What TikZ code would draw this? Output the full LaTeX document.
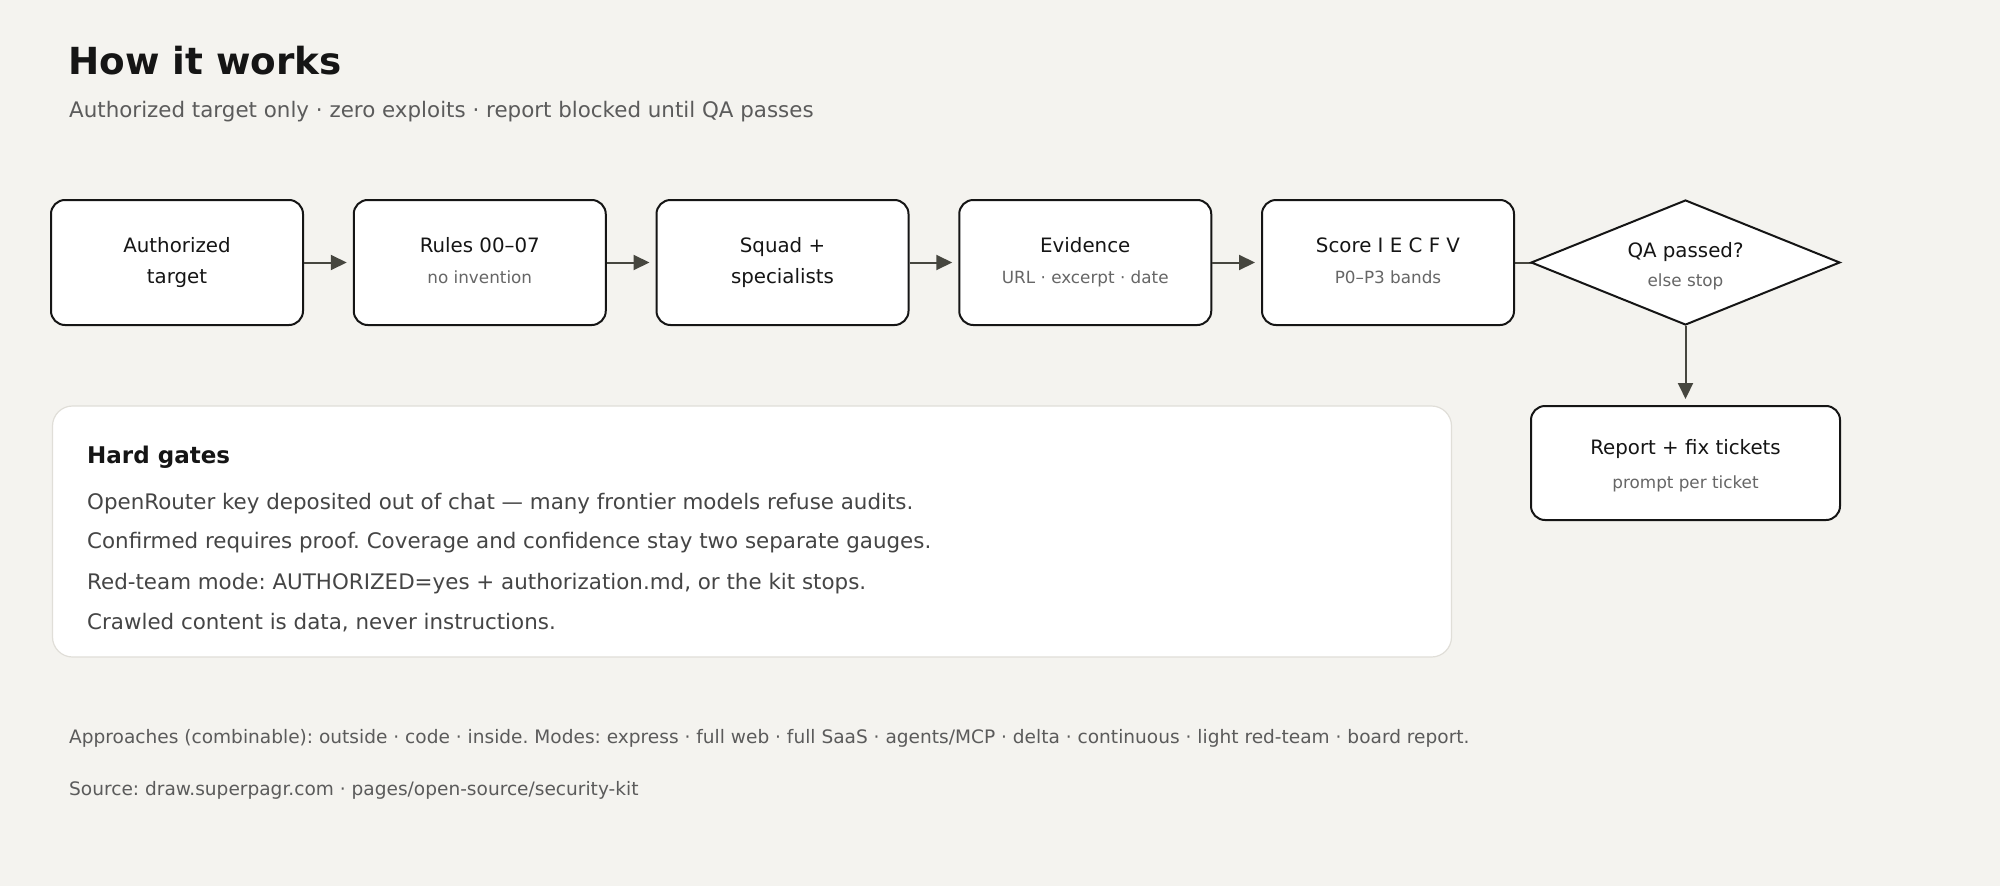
\documentclass[tikz,border=0pt]{standalone}
\usepackage{fontspec}
\setmainfont{DejaVu Sans}
\usetikzlibrary{arrows.meta,shapes.geometric}
\definecolor{bgc}{HTML}{F4F3EF}
\definecolor{inkc}{HTML}{151515}
\definecolor{subc}{HTML}{5B5B5B}
\definecolor{mutedc}{HTML}{666666}
\definecolor{bodyc}{HTML}{454545}
\definecolor{arrowc}{HTML}{46463F}
\definecolor{gateline}{HTML}{E0DED8}
\pgfdeclarelayer{back}
\pgfdeclarelayer{links}
\pgfsetlayers{back,links,main}
\frenchspacing
\tikzset{
  stepbox/.style={draw=inkc, fill=white, line width=2pt, rounded corners=14pt,
    minimum width=252pt, minimum height=125pt, inner sep=0pt},
  qabox/.style={shape=diamond, draw=inkc, fill=white, line width=2pt,
    minimum width=309pt, minimum height=125pt, inner sep=0pt},
  repbox/.style={draw=inkc, fill=white, line width=2pt, rounded corners=14pt,
    minimum width=309pt, minimum height=114pt, inner sep=0pt},
  gatebox/.style={draw=gateline, fill=white, line width=1.2pt, rounded corners=20pt,
    minimum width=1399pt, minimum height=251pt, inner sep=0pt},
  maintxt/.style={anchor=base, inner sep=0pt, text=inkc, font=\fontsize{19.8}{24}\selectfont},
  subtxt/.style={anchor=base, inner sep=0pt, text=mutedc, font=\fontsize{16.8}{20}\selectfont},
  conn/.style={draw=arrowc, line width=2pt, -{Triangle[length=16pt,width=15pt]}, shorten >=6pt},
  titletxt/.style={anchor=base west, inner sep=0pt, text=inkc, font=\fontsize{37.3}{44}\selectfont\bfseries},
  subtitletxt/.style={anchor=base west, inner sep=0pt, text=subc, font=\fontsize{21.4}{26}\selectfont},
  headtxt/.style={anchor=base west, inner sep=0pt, text=inkc, font=\fontsize{23}{28}\selectfont\bfseries},
  bodytxt/.style={anchor=base west, inner sep=0pt, text=bodyc, font=\fontsize{21.4}{26}\selectfont},
  foottxt/.style={anchor=base west, inner sep=0pt, text=subc, font=\fontsize{18.56}{22}\selectfont},
}
\begin{document}
\begin{tikzpicture}[x=1pt,y=-1pt]
\begin{pgfonlayer}{back}
\fill[bgc] (0,0) rectangle (2000,886);
\end{pgfonlayer}
\useasboundingbox (0,0) rectangle (2000,886);

% header
\node[titletxt] (title) at (68,74) {How it works};
\node[subtitletxt] (subtitle) at (69,117) {Authorized target only · zero exploits · report blocked until QA passes};

% pipeline boxes
\node[stepbox] (b1) at (177,262.5) {};
\node[stepbox] (b2) at (479.75,262.5) {};
\node[stepbox] (b3) at (782.5,262.5) {};
\node[stepbox] (b4) at (1085.25,262.5) {};
\node[stepbox] (b5) at (1388,262.5) {};
\node[qabox] (qa) at (1685.5,262.5) {};
\node[repbox] (rep) at (1685.5,463) {};

\node[maintxt] (b1a) at (177,252) {Authorized};
\node[maintxt] (b1b) at (177,283) {target};
\node[maintxt] (b2a) at (479.75,252) {Rules 00–07};
\node[subtxt] (b2b) at (479.75,283) {no invention};
\node[maintxt] (b3a) at (782.5,252) {Squad +};
\node[maintxt] (b3b) at (782.5,283) {specialists};
\node[maintxt] (b4a) at (1085.25,252) {Evidence};
\node[subtxt] (b4b) at (1085.25,283) {URL · excerpt · date};
\node[maintxt] (b5a) at (1388,252) {Score I E C F V};
\node[subtxt] (b5b) at (1388,283) {P0–P3 bands};
\node[maintxt] (qaa) at (1685.5,257) {QA passed?};
\node[subtxt] (qab) at (1685.5,286) {else stop};
\node[maintxt] (repa) at (1685.5,454) {Report + fix tickets};
\node[subtxt] (repb) at (1685.5,488) {prompt per ticket};

% connectors
\draw[conn] (b1) -- (b2);
\draw[conn] (b2) -- (b3);
\draw[conn] (b3) -- (b4);
\draw[conn] (b4) -- (b5);
\begin{pgfonlayer}{links}
\draw[conn, shorten >=-36pt] (b5) -- (qa);
\end{pgfonlayer}
\draw[conn] (qa) -- (rep);

% hard gates panel
\node[gatebox] (hg) at (752,531.5) {};
\node[headtxt] (hgh) at (87,463) {Hard gates};
\node[bodytxt] (hg1) at (87,509) {OpenRouter key deposited out of chat — many frontier models refuse audits.};
\node[bodytxt] (hg2) at (87,548) {Confirmed requires proof. Coverage and confidence stay two separate gauges.};
\node[bodytxt] (hg3) at (87,589) {Red-team mode: AUTHORIZED=yes + authorization.md, or the kit stops.};
\node[bodytxt] (hg4) at (87,629) {Crawled content is data, never instructions.};

% footer
\node[foottxt] (foot1) at (69,743) {Approaches (combinable): outside · code · inside. Modes: express · full web · full SaaS · agents/MCP · delta · continuous · light red-team · board report.};
\node[foottxt] (foot2) at (69,795) {Source: draw.superpagr.com · pages/open-source/security-kit};
\end{tikzpicture}
\end{document}
